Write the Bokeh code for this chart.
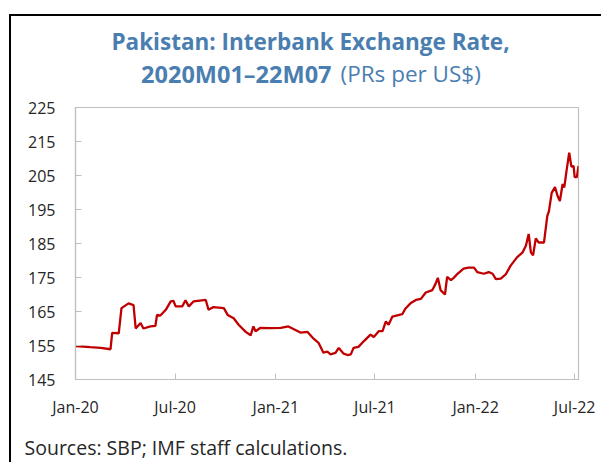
from datetime import datetime
from bokeh.plotting import figure
from bokeh.layouts import column
from bokeh.models import Range1d, FixedTicker, DatetimeTickFormatter
from bokeh.core.properties import value
from bokeh.embed import file_html
from bokeh.resources import INLINE

dates = ["2020-01-01", "2020-01-28", "2020-02-16", "2020-03-05", "2020-03-08", "2020-03-20",
         "2020-03-25", "2020-04-07", "2020-04-16", "2020-04-20", "2020-04-29", "2020-05-04",
         "2020-05-17", "2020-05-26", "2020-05-29", "2020-06-04", "2020-06-14", "2020-06-23",
         "2020-06-28", "2020-07-02", "2020-07-14", "2020-07-20", "2020-07-26", "2020-08-04",
         "2020-08-26", "2020-08-31", "2020-09-09", "2020-09-28", "2020-10-05", "2020-10-16",
         "2020-10-25", "2020-11-07", "2020-11-16", "2020-11-21", "2020-11-25", "2020-12-04",
         "2020-12-22", "2021-01-10", "2021-01-24", "2021-02-15", "2021-02-28", "2021-03-11",
         "2021-03-20", "2021-03-29", "2021-04-05", "2021-04-11", "2021-04-20", "2021-04-26",
         "2021-05-05", "2021-05-12", "2021-05-18", "2021-05-23", "2021-06-01", "2021-06-11",
         "2021-06-23", "2021-06-29", "2021-07-08", "2021-07-15", "2021-07-21", "2021-07-26",
         "2021-08-02", "2021-08-20", "2021-08-26", "2021-09-04", "2021-09-14", "2021-09-23",
         "2021-10-02", "2021-10-14", "2021-10-20", "2021-10-24", "2021-10-29", "2021-11-06",
         "2021-11-10", "2021-11-17", "2021-11-22", "2021-11-29", "2021-12-10", "2021-12-19",
         "2021-12-29", "2022-01-04", "2022-01-16", "2022-01-25", "2022-02-01", "2022-02-07",
         "2022-02-16", "2022-02-25", "2022-03-06", "2022-03-18", "2022-03-28", "2022-04-03",
         "2022-04-08", "2022-04-12", "2022-04-16", "2022-04-21", "2022-04-26", "2022-05-06",
         "2022-05-12", "2022-05-15", "2022-05-20", "2022-05-26", "2022-05-31", "2022-06-04",
         "2022-06-09", "2022-06-12", "2022-06-16", "2022-06-21", "2022-06-25", "2022-06-29",
         "2022-07-01", "2022-07-05", "2022-07-08"]
rate = [154.8, 154.5, 154.3, 153.9, 158.7, 158.6,
        166.0, 167.4, 166.9, 160.0, 161.6, 160.0,
        160.6, 160.8, 164.0, 163.8, 165.5, 168.0,
        168.1, 166.5, 166.5, 168.3, 166.5, 168.0,
        168.4, 165.5, 166.3, 166.0, 164.0, 163.0,
        161.1, 159.0, 158.0, 160.6, 159.2, 160.2,
        160.1, 160.2, 160.6, 158.8, 159.0, 157.0,
        155.8, 152.9, 153.2, 152.4, 152.8, 154.3,
        152.6, 152.2, 152.4, 154.3, 154.6, 156.3,
        158.2, 157.5, 159.2, 159.2, 162.1, 161.1,
        163.5, 164.2, 165.9, 167.4, 168.4, 168.7,
        170.6, 171.3, 173.2, 174.9, 171.3, 170.0,
        175.2, 174.2, 174.9, 176.1, 177.6, 177.9,
        177.9, 176.6, 176.1, 176.6, 176.1, 174.5,
        174.7, 175.9, 178.5, 181.0, 182.4, 184.4,
        187.8, 182.4, 181.5, 186.5, 185.3, 185.3,
        193.1, 194.5, 199.9, 201.6, 198.9, 197.5,
        202.5, 201.5, 206.2, 211.7, 207.6, 207.8,
        204.5, 204.5, 207.8]

x_ticks = ["2020-01-01", "2020-07-01", "2021-01-01", "2021-07-01", "2022-01-01", "2022-07-01"]
y_ticks = [145, 155, 165, 175, 185, 195, 205, 215, 225]

title_line1 = "Pakistan: Interbank Exchange Rate,"
title_line2_bold = "2020M01\u201322M07"
title_line2_rest = "(PRs per US$)"
source_note = "Sources: SBP; IMF staff calculations."

FONT = "Open Sans"
BLUE = "#4A7EB0"
TXT = "#262626"
GRAY = "#BFBFBF"

def to_dt(s):
    return datetime.strptime(s, "%Y-%m-%d")

W = 590  # content width inside the black frame (frame starts at x=11)
HEAD_H, MAIN_H, FOOT_H = 72, 332, 42


def text_panel(h):
    f = figure(width=W, height=h, output_backend="svg", toolbar_location=None,
               x_range=Range1d(0, W), y_range=Range1d(h, 0),
               x_axis_location=None, y_axis_location=None,
               min_border=0, min_border_left=0, min_border_right=0,
               min_border_top=0, min_border_bottom=0, frame_align=False)
    f.grid.visible = False
    f.outline_line_color = None
    return f

# ---- header (title) ----
head = text_panel(HEAD_H)
head.text(x=[299], y=[25], text=[title_line1], text_align="center", text_baseline="middle",
          text_font=value(FONT), text_font_size="22.5px", text_font_style="bold",
          text_color=BLUE)
head.text(x=[320], y=[57], text=[title_line2_bold], text_align="right", text_baseline="middle",
          text_font=value(FONT), text_font_size="23.5px", text_font_style="bold",
          text_color=BLUE)
head.text(x=[329], y=[57], text=[title_line2_rest], text_align="left", text_baseline="middle",
          text_font=value(FONT), text_font_size="22.5px", text_font_style="normal",
          text_color=BLUE)

# ---- main chart ----
xs = [to_dt(d) for d in dates]
p = figure(width=W, height=MAIN_H, x_axis_type="datetime", output_backend="svg",
           toolbar_location=None, frame_align=False,
           x_range=Range1d(to_dt("2020-01-01"), to_dt("2022-07-08")),
           y_range=Range1d(145, 225),
           min_border_left=64, min_border_right=23, min_border_top=19, min_border_bottom=38)
p.line(xs, rate, line_color="#C00000", line_width=2.3)
p.xgrid.visible = False
p.ygrid.visible = False
p.outline_line_color = GRAY
p.outline_line_width = 1.2

tick_ms = [to_dt(t).timestamp() * 1000 for t in x_ticks]
p.xaxis.ticker = FixedTicker(ticks=tick_ms)
fmt = "%b-%y"
p.xaxis.formatter = DatetimeTickFormatter(days=fmt, months=fmt, years=fmt)
p.yaxis.ticker = FixedTicker(ticks=y_ticks)
for ax in (p.xaxis, p.yaxis):
    ax.axis_line_color = GRAY
    ax.axis_line_width = 1.2
    ax.major_tick_line_color = GRAY
    ax.major_tick_in = 6
    ax.major_tick_out = 0
    ax.minor_tick_line_color = None
    ax.major_label_text_font = FONT
    ax.major_label_text_font_size = "16px"
    ax.major_label_text_color = TXT
p.xaxis.major_label_standoff = 16
p.yaxis.major_label_standoff = 20

# ---- footer ----
foot = text_panel(FOOT_H)
foot.text(x=[13], y=[27], text=[source_note], text_align="left", text_baseline="middle",
          text_font=value(FONT), text_font_size="19.5px", text_color=TXT)

layout = column(head, p, foot, spacing=0,
                styles={"margin-left": "9px", "margin-top": "14px",
                        "border-left": "2px solid black", "border-top": "2px solid black"})

open("out.html", "w").write(file_html(layout, INLINE))
